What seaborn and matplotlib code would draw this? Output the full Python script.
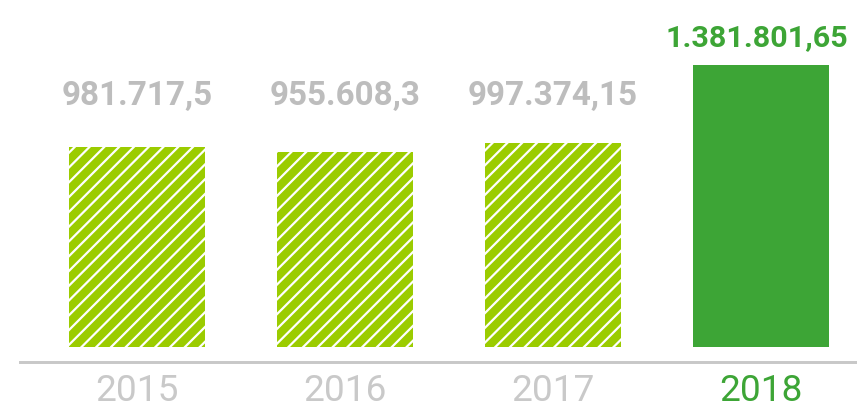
import matplotlib
matplotlib.use("Agg")
import matplotlib.pyplot as plt
import seaborn as sns

# data
years = ["2015", "2016", "2017", "2018"]
values = [981717.5, 955608.3, 997374.15, 1381801.65]
labels = ["981.717,5", "955.608,3", "997.374,15", "1.381.801,65"]

lime = "#9BCC00"
green = "#3DA536"
grey_txt = "#BDBDBD"
grey_tick = "#C9C9C9"

sns.set_style("white")
plt.rcParams["font.family"] = ["Roboto", "DejaVu Sans"]
plt.rcParams["hatch.linewidth"] = 1.2

dpi = 133
fig = plt.figure(figsize=(857 / dpi, 412 / dpi), dpi=dpi)
ax = fig.add_axes([20 / 857, 50 / 412, 837 / 857, 362 / 412])

colors = [lime, lime, lime, green]
sns.barplot(x=years, y=values, hue=years, palette=colors, legend=False,
            width=0.654, ax=ax, saturation=1)

for i, p in enumerate(ax.patches):
    p.set_linewidth(0)
    if i < 3:
        p.set_hatch("///")
        p.set_edgecolor("white")

vmax = max(values)
ax.set_ylim(-15 / 282 * vmax, 347 / 282 * vmax)
ax.set_xlim(-117 / 208, 3 + 96 / 208)

# value labels
gray_top = max(values[:3])
for i, (v, lab) in enumerate(zip(values, labels)):
    if i < 3:
        ax.annotate(lab, (i, gray_top), xytext=(0, 17), textcoords="offset points",
                    ha="center", va="bottom", fontsize=18, fontweight="bold",
                    color=grey_txt)
    else:
        ax.annotate(lab, (i, v), xytext=(-2, 7), textcoords="offset points",
                    ha="center", va="bottom", fontsize=16.5, fontweight="bold",
                    color=green)

ax.set_yticks([])
ax.set_xlabel("")
ax.set_ylabel("")
ax.tick_params(axis="x", length=0, pad=6, labelsize=20, labelcolor=grey_tick)
ax.get_xticklabels()[3].set_color(green)

for s in ["top", "left", "right"]:
    ax.spines[s].set_visible(False)
ax.spines["bottom"].set_color("#C8C8C8")
ax.spines["bottom"].set_linewidth(1.6)

fig.savefig("out.png", dpi=dpi)
